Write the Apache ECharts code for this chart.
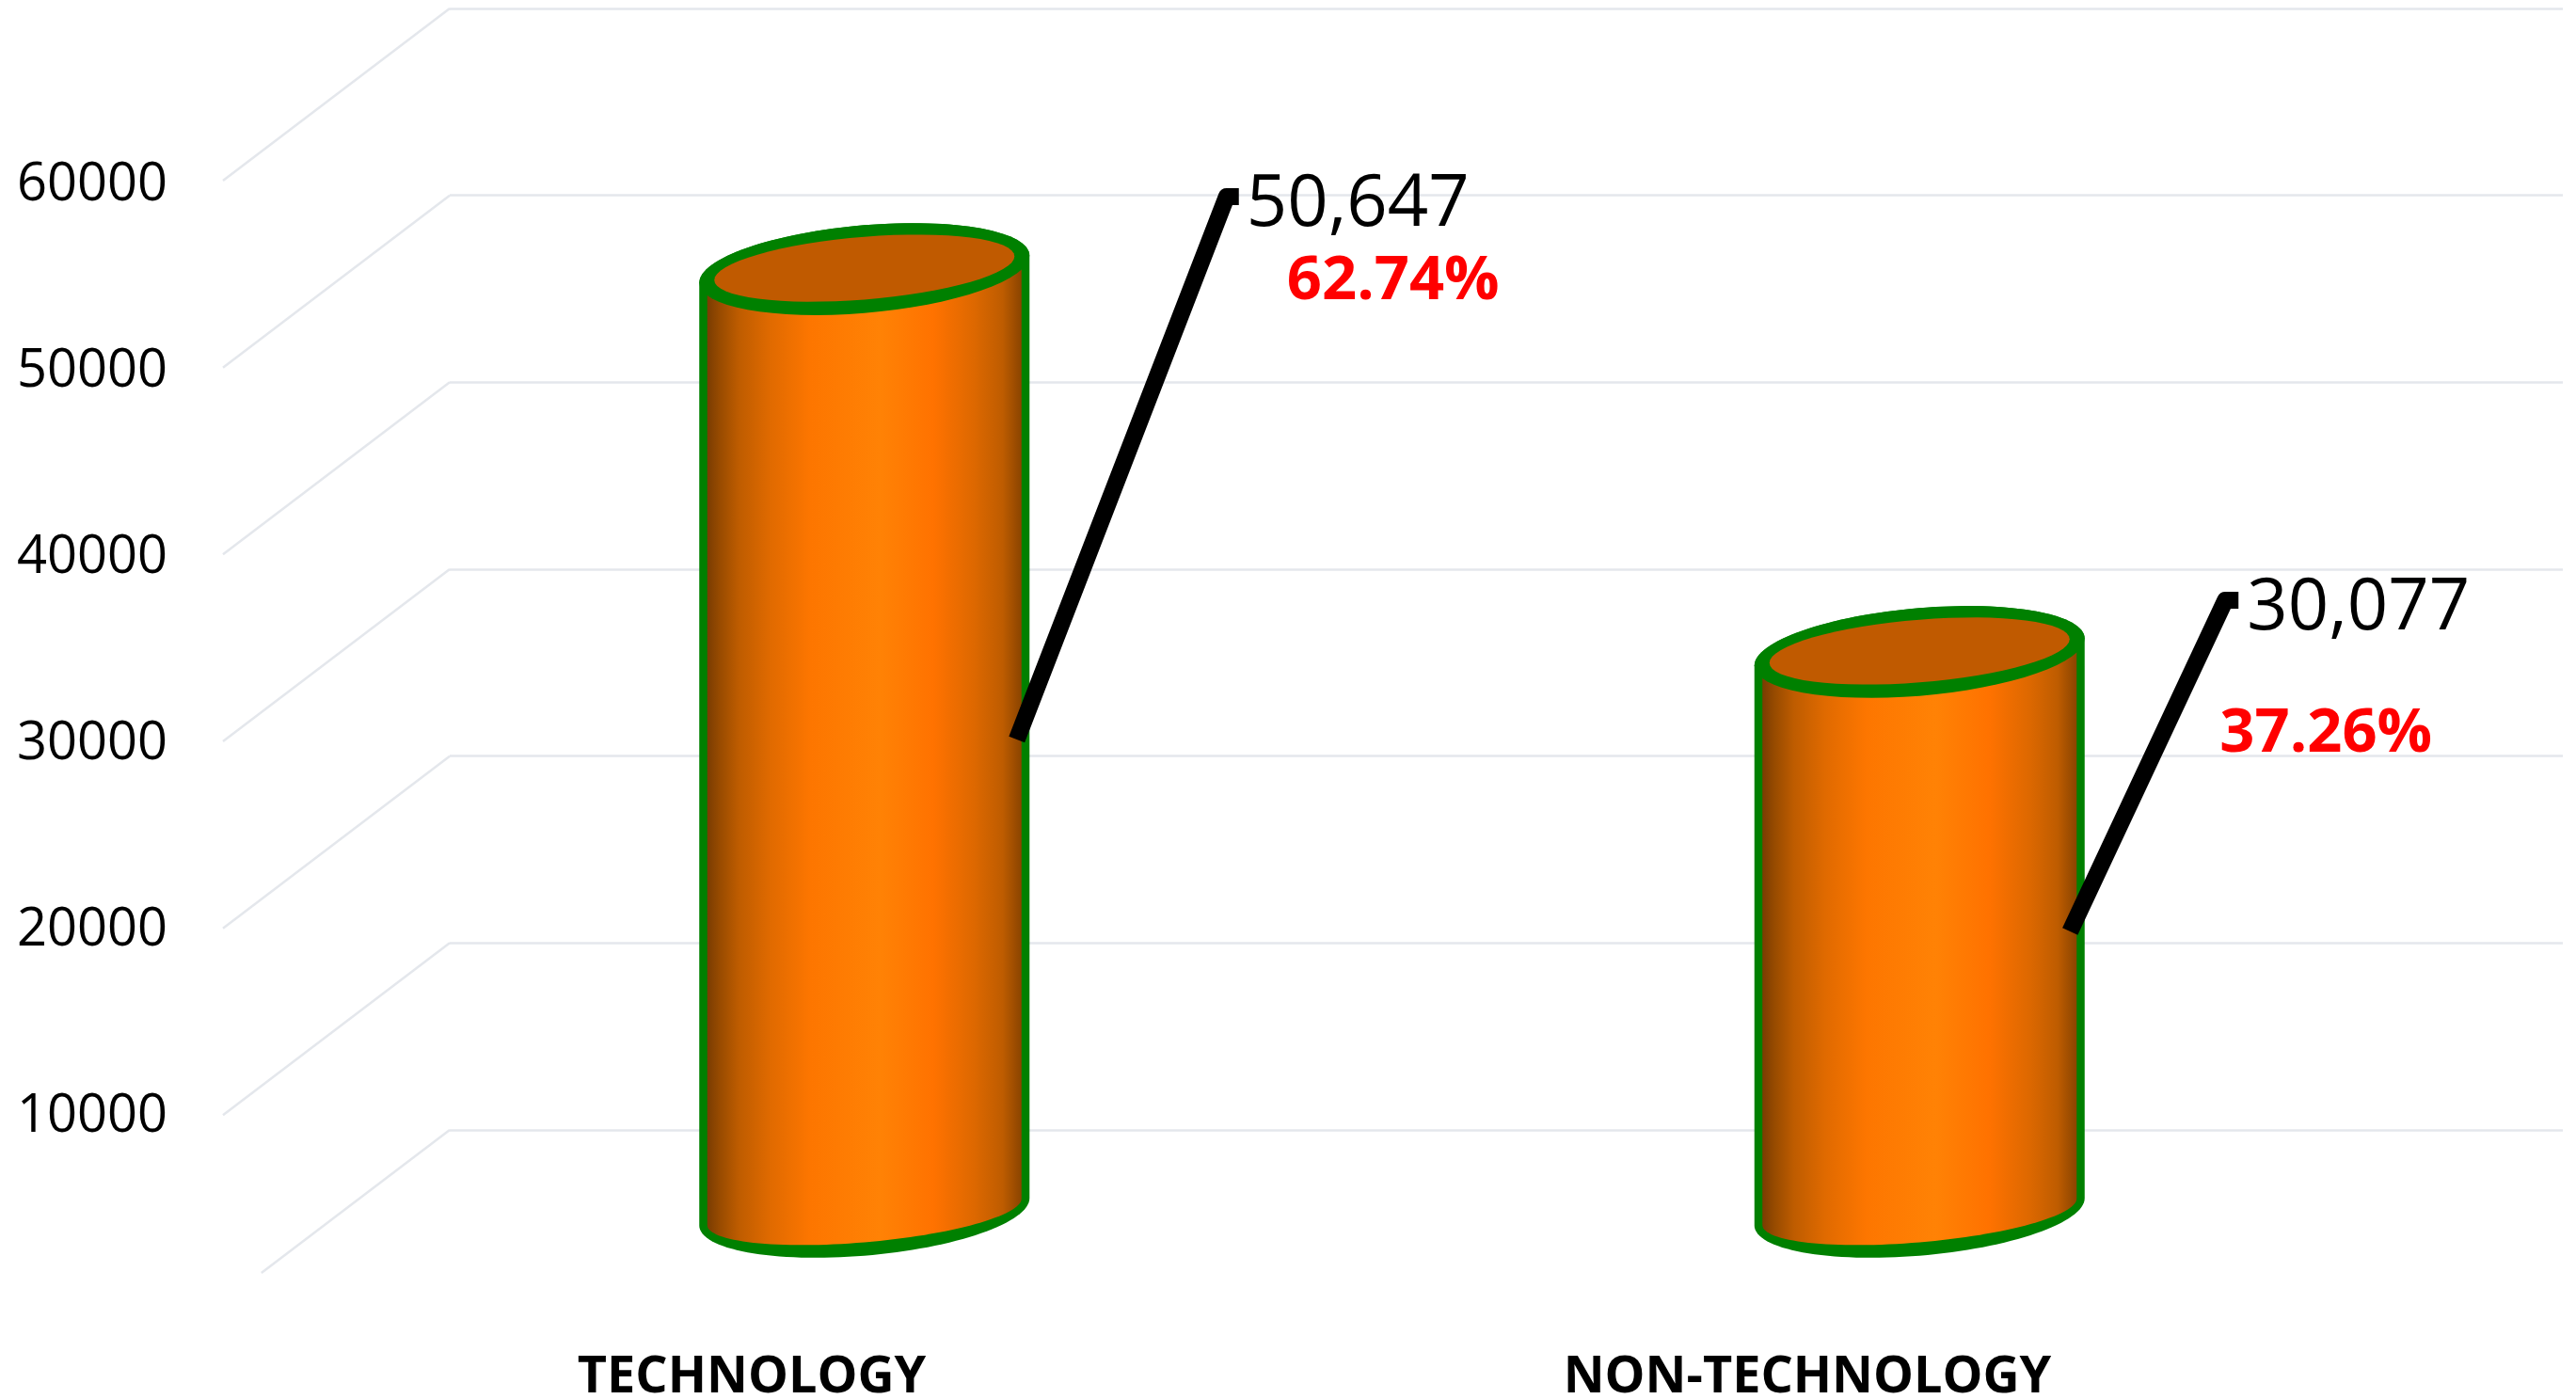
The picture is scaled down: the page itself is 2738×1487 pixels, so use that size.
<!DOCTYPE html>
<html>
<head>
<meta charset="utf-8">
<style>html,body{margin:0;padding:0;background:#fff}#c{width:2738px;height:1487px}</style>
<script src="https://cdn.jsdelivr.net/npm/echarts@6/dist/echarts.min.js"></script>
</head>
<body>
<div id="c"></div>
<script>
const categories = ['TECHNOLOGY', 'NON-TECHNOLOGY'];
const values = [50647, 30077];
const percents = ['62.74%', '37.26%'];
const yMin = 0, yMax = 60000, yStep = 10000;
const gridValues = [0, 10000, 20000, 30000, 40000, 50000, 60000];

// Annotation placement, in pixels relative to each cylinder's top centre.
const leaderFrom = [[162, 500], [160, 297]];
const leaderKnee = [[385, -77], [325, -55]];
const leaderTip = [[398, -77], [339, -55]];
const valueLabelAt = [[406, -68], [348, -46]];
const percentLabelAt = [[562, 13], [432, 88]];

const FONT = '"Open Sans", "Noto Sans", sans-serif';
const GRID_COLOR = '#E4E7EC';
const GREEN = '#008000';

// Sheared ellipse outline: t from t0 to t1, half-width a, vertical radius b, shear k.
function arc(cx, cy, a, b, k, t0, t1) {
  const pts = [];
  const n = 64;
  for (let i = 0; i <= n; i++) {
    const t = t0 + (t1 - t0) * i / n;
    pts.push([cx + a * Math.cos(t), cy - k * Math.cos(t) + b * Math.sin(t)]);
  }
  return pts;
}

function renderCylinder(params, api) {
  const i = api.value(0);
  const top = api.coord([i, api.value(1)]);
  const base = api.coord([i, 0]);
  const a = api.size([1, 0])[0] * 0.1565;
  const cx = top[0];

  const outer = arc(cx, base[1], a, a * 0.266, a * 0.082, Math.PI, 0)
    .concat(arc(cx, top[1], a, a * 0.266, a * 0.082, 0, -Math.PI));
  const ai = a - 8.5;
  const inner = arc(cx, base[1], ai, a * 0.185, a * 0.08, Math.PI, 0)
    .concat(arc(cx, top[1], ai, a * 0.185, a * 0.08, 0, -Math.PI));

  return {
    type: 'group',
    children: [
      { type: 'polygon', shape: { points: outer }, style: { fill: GREEN } },
      {
        type: 'polygon', shape: { points: inner },
        style: {
          fill: new echarts.graphic.LinearGradient(0, 0, 1, 0, [
            { offset: 0, color: '#7A3C02' },
            { offset: 0.04, color: '#984B00' },
            { offset: 0.1, color: '#BE5C00' },
            { offset: 0.2, color: '#E06A00' },
            { offset: 0.33, color: '#FD7600' },
            { offset: 0.55, color: '#FF8205' },
            { offset: 0.72, color: '#FF7200' },
            { offset: 0.85, color: '#DD6800' },
            { offset: 0.94, color: '#BE5C00' },
            { offset: 1, color: '#8A4400' }
          ])
        }
      },
      { type: 'polygon', shape: { points: arc(cx, top[1], a, a * 0.266, a * 0.082, 0, Math.PI * 2) }, style: { fill: GREEN } },
      { type: 'polygon', shape: { points: arc(cx, top[1] - 1, a - 16, a * 0.19, a * 0.072, 0, Math.PI * 2) }, style: { fill: '#C05A00' } }
    ]
  };
}

function renderAnnotation(params, api) {
  const i = api.value(0);
  const top = api.coord([i, api.value(1)]);
  const at = o => [top[0] + o[0], top[1] + o[1]];
  return {
    type: 'group',
    children: [
      {
        type: 'polyline',
        shape: { points: [at(leaderFrom[i]), at(leaderKnee[i]), at(leaderTip[i])] },
        style: { stroke: '#000', lineWidth: 18, fill: 'none', lineJoin: 'round', lineCap: 'butt' }
      },
      {
        type: 'text',
        x: at(valueLabelAt[i])[0], y: at(valueLabelAt[i])[1],
        style: {
          text: values[i].toLocaleString('en-US'), fill: '#000',
          font: '76px ' + FONT, align: 'left', verticalAlign: 'middle'
        }
      },
      {
        type: 'text',
        x: at(percentLabelAt[i])[0], y: at(percentLabelAt[i])[1],
        style: {
          text: percents[i], fill: '#FF0000',
          font: 'bold 65px ' + FONT, align: 'center', verticalAlign: 'middle'
        }
      }
    ]
  };
}

// Side-wall lines run from the back wall towards the front, stopping at the floor edge.
function renderSideWall(params, api) {
  const p = api.coord([0, api.value(0)]);
  const backX = api.coord([0, 0])[0] - api.size([1, 0])[0] / 2;
  const floor = 1353;
  const fy = Math.min(p[1] + 183, floor);
  const fx = backX - (fy - p[1]) * 241 / 183;
  return {
    type: 'line',
    shape: { x1: backX, y1: p[1], x2: fx, y2: fy },
    style: { stroke: GRID_COLOR, lineWidth: 2.5 }
  };
}

const chart = echarts.init(document.getElementById('c'), null, { renderer: 'canvas' });
chart.setOption({
  animation: false,
  backgroundColor: '#fff',
  grid: [
    { left: 478, width: 2246, top: 9, height: 1192, outerBoundsMode: 'none' },     // back wall
    { left: 358, width: 2243, top: 101, height: 1187, outerBoundsMode: 'none' },   // cylinders
    { left: 238, width: 2244, top: 197, height: 1188, outerBoundsMode: 'none' }    // front plane, carries the labels
  ],
  xAxis: [
    { gridIndex: 0, type: 'category', data: categories, show: false },
    { gridIndex: 1, type: 'category', data: categories, show: false },
    {
      gridIndex: 2, type: 'category', data: categories,
      axisLine: { show: false }, axisTick: { show: false },
      axisLabel: { margin: 53, color: '#000', fontFamily: FONT, fontWeight: 'bold', fontSize: 54 }
    }
  ],
  yAxis: [
    {
      gridIndex: 0, type: 'value', min: yMin, max: yMax, interval: yStep,
      axisLine: { show: false }, axisTick: { show: false }, axisLabel: { show: false },
      splitLine: { show: true, lineStyle: { color: GRID_COLOR, width: 2.5 } }
    },
    { gridIndex: 1, type: 'value', min: yMin, max: yMax, interval: yStep, show: false, splitLine: { show: false } },
    {
      gridIndex: 2, type: 'value', min: yMin, max: yMax, interval: yStep,
      axisLine: { show: false }, axisTick: { show: false }, splitLine: { show: false },
      axisLabel: {
        margin: 60, color: '#000', fontFamily: FONT, fontSize: 56,
        formatter: v => (v === 0 ? '' : String(v))
      }
    }
  ],
  series: [
    {
      type: 'custom', xAxisIndex: 0, yAxisIndex: 0, z: 1, silent: true, clip: false,
      coordinateSystem: 'cartesian2d',
      data: gridValues.map(v => [v]), encode: { y: 0 },
      renderItem: renderSideWall
    },
    {
      type: 'custom', xAxisIndex: 1, yAxisIndex: 1, z: 3, silent: true, clip: false,
      data: values.map((v, i) => [i, v]), encode: { x: 0, y: 1 },
      renderItem: renderCylinder
    },
    {
      type: 'custom', xAxisIndex: 1, yAxisIndex: 1, z: 4, silent: true, clip: false,
      data: values.map((v, i) => [i, v]), encode: { x: 0, y: 1 },
      renderItem: renderAnnotation
    }
  ]
});
</script>
</body>
</html>
